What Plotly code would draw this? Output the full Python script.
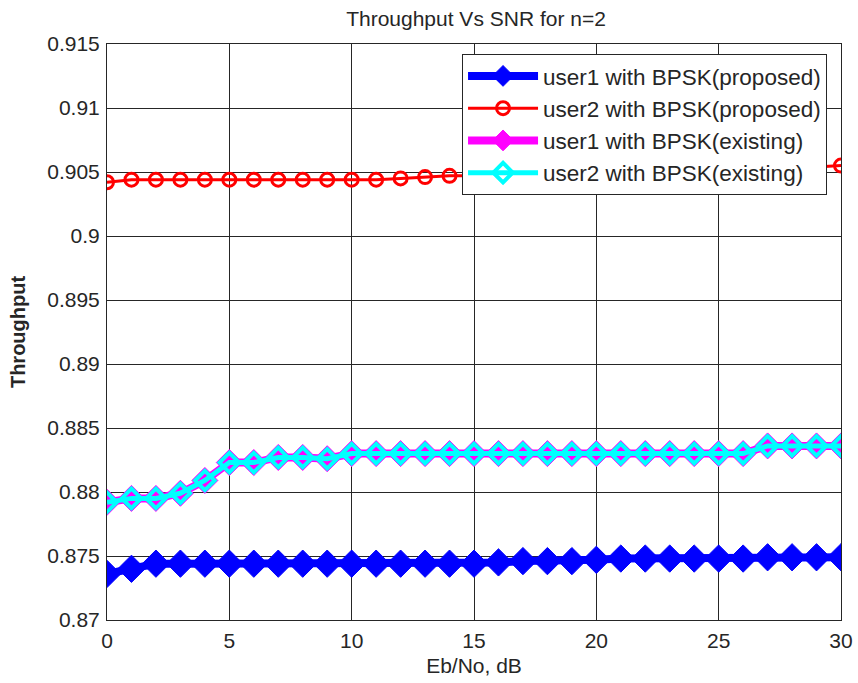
import plotly.graph_objects as go

snr_db = list(range(0, 31))

user1_proposed = [0.8736, 0.8740, 0.8744, 0.8744, 0.8744, 0.8744, 0.8744, 0.8744,
                  0.8744, 0.8744, 0.8744, 0.8744, 0.8744, 0.8744, 0.8744, 0.8744,
                  0.8745, 0.8746, 0.8746, 0.8746, 0.8747, 0.8748, 0.8748, 0.8748,
                  0.8748, 0.8748, 0.8748, 0.8749, 0.8749, 0.8749, 0.8749]

user2_proposed = [0.9042, 0.9044, 0.9044, 0.9044, 0.9044, 0.9044, 0.9044, 0.9044,
                  0.9044, 0.9044, 0.9044, 0.9044, 0.9045, 0.9046, 0.9047, 0.9047,
                  0.9047, 0.9048, 0.9048, 0.9049, 0.9049, 0.9050, 0.9050, 0.9051,
                  0.9051, 0.9052, 0.9052, 0.9053, 0.9053, 0.9054, 0.9055]

user1_existing = [0.8792, 0.8795, 0.8795, 0.8799, 0.8809, 0.8823, 0.8823, 0.8827,
                  0.8827, 0.8826, 0.8830, 0.8830, 0.8830, 0.8830, 0.8830, 0.8830,
                  0.8830, 0.8830, 0.8830, 0.8830, 0.8830, 0.8830, 0.8830, 0.8830,
                  0.8830, 0.8830, 0.8830, 0.8836, 0.8836, 0.8836, 0.8836]

user2_existing = list(user1_existing)

x_ticks = [0, 5, 10, 15, 20, 25, 30]
y_ticks = [0.87, 0.875, 0.88, 0.885, 0.89, 0.895, 0.9, 0.905, 0.91, 0.915]
y_tick_labels = ["0.87", "0.875", "0.88", "0.885", "0.89", "0.895", "0.9", "0.905", "0.91", "0.915"]

FONT = "Liberation Sans, Arial, sans-serif"
INK = "#262626"

W, H = 858, 683

fig = go.Figure()

fig.add_trace(go.Scatter(
    x=snr_db, y=user1_proposed, mode="lines+markers",
    name="user1 with BPSK(proposed)",
    line=dict(color="#0000ff", width=8),
    marker=dict(symbol="diamond", size=21, color="#0000ff",
                line=dict(color="#0000ff", width=1)),
))
fig.add_trace(go.Scatter(
    x=snr_db, y=user2_proposed, mode="lines+markers",
    name="user2 with BPSK(proposed)",
    line=dict(color="#ff0000", width=3),
    marker=dict(symbol="circle-open", size=13, color="#ff0000",
                line=dict(color="#ff0000", width=3)),
))
fig.add_trace(go.Scatter(
    x=snr_db, y=user1_existing, mode="lines+markers",
    name="user1 with BPSK(existing)",
    line=dict(color="#ff00ff", width=8),
    marker=dict(symbol="diamond", size=20, color="#ff00ff",
                line=dict(color="#ff00ff", width=1)),
))
fig.add_trace(go.Scatter(
    x=snr_db, y=user2_existing, mode="lines+markers",
    name="user2 with BPSK(existing)",
    line=dict(color="#00ffff", width=5),
    marker=dict(symbol="diamond-open", size=15, color="#00ffff",
                line=dict(color="#00ffff", width=4)),
))

fig.update_layout(
    width=W, height=H,
    margin=dict(l=107, r=17, t=44, b=63, autoexpand=False),
    paper_bgcolor="white", plot_bgcolor="white",
    font=dict(family=FONT, color=INK, size=21),
    title=dict(text="Throughput Vs SNR for n=2", x=476 / W, xanchor="center",
               y=1 - 19 / H, yanchor="middle", yref="container",
               font=dict(family=FONT, size=21, color=INK)),
    showlegend=True,
    legend=dict(x=0.4837, y=0.983, xanchor="left", yanchor="top",
                bgcolor="white", bordercolor=INK, borderwidth=1,
                font=dict(family=FONT, size=22.5, color=INK),
                traceorder="normal", itemwidth=70),
    xaxis=dict(range=[0, 30], tickvals=x_ticks, showgrid=True, gridcolor=INK, gridwidth=1,
               showline=True, linecolor=INK, linewidth=1, mirror=True, zeroline=False,
               ticks="", ticklabelstandoff=2, automargin=False,
               tickfont=dict(family=FONT, size=21, color=INK),
               title=dict(text="Eb/No, dB", font=dict(family=FONT, size=21, color=INK), standoff=7)),
    yaxis=dict(range=[0.87, 0.915], tickvals=y_ticks, ticktext=y_tick_labels,
               showgrid=True, gridcolor=INK, gridwidth=1,
               showline=True, linecolor=INK, linewidth=1, mirror=True, zeroline=False,
               ticks="", ticklabelstandoff=2, automargin=False,
               tickfont=dict(family=FONT, size=21, color=INK),
               title=dict(text="<b>Throughput</b>", font=dict(family=FONT, size=20, color=INK), standoff=16)),
)

fig.write_html("out.html", config={"displayModeBar": False},
               post_script="document.body.style.margin='0';document.body.style.overflow='hidden';")
